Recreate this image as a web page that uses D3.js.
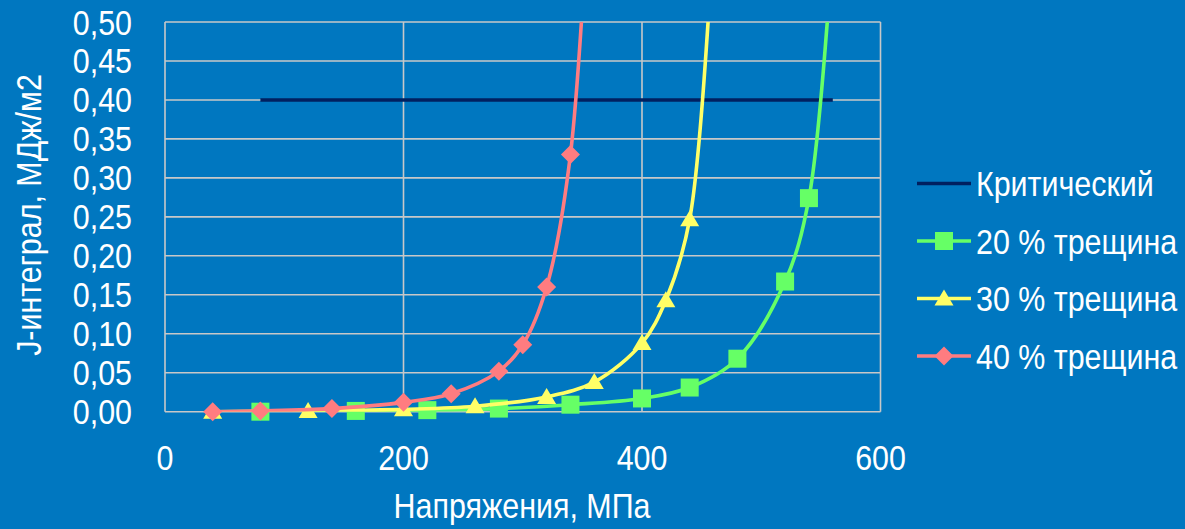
<!DOCTYPE html>
<html>
<head>
<meta charset="utf-8">
<script src="https://cdn.jsdelivr.net/npm/d3@7"></script>
<style>
  body { margin: 0; background: #0077c0; }
  svg { display: block; }
  text { font-family: "Liberation Sans", Arial, sans-serif; fill: #ffffff; }
</style>
</head>
<body>
<svg id="chart" width="1185" height="529"></svg>
<script>
// Stress, MPa, and J-integral values, MJ/m2
const critX = [80, 560];
const critY = [0.40, 0.40];

const x20 = [80, 160, 220, 280, 340, 400, 440, 480, 520, 540, 560];
const y20 = [0.000, 0.001, 0.002, 0.004, 0.009, 0.017, 0.031, 0.068, 0.167, 0.274, 0.60];

const x30 = [40, 120, 200, 260, 320, 360, 400, 420, 440, 460];
const y30 = [0.000, 0.001, 0.003, 0.007, 0.019, 0.038, 0.088, 0.143, 0.247, 0.62];

const x40 = [40, 80, 140, 200, 240, 280, 300, 320, 340, 360];
const y40 = [0.000, 0.001, 0.004, 0.012, 0.023, 0.052, 0.086, 0.160, 0.330, 0.80];

const seriesNames = ["Критический", "20 % трещина", "30 % трещина", "40 % трещина"];
const xTicks = [0, 200, 400, 600];
const yTicks = [0, 0.05, 0.10, 0.15, 0.20, 0.25, 0.30, 0.35, 0.40, 0.45, 0.50];
const xTitle = "Напряжения, МПа";
const yTitle = "J-интеграл, МДж/м2";

const series = [
  { name: seriesNames[0], xs: critX, ys: critY, color: "#002060", marker: null, smooth: false },
  { name: seriesNames[1], xs: x20, ys: y20, color: "#66ff66", marker: "square", smooth: true },
  { name: seriesNames[2], xs: x30, ys: y30, color: "#ffff66", marker: "triangle", smooth: true },
  { name: seriesNames[3], xs: x40, ys: y40, color: "#ff7c80", marker: "diamond", smooth: true }
];

const svg = d3.select("#chart");
const plot = { left: 165, top: 22, right: 880.5, bottom: 411.7 };

const x = d3.scaleLinear().domain([0, 600]).range([plot.left, plot.right]);
const y = d3.scaleLinear().domain([0, 0.5]).range([plot.bottom, plot.top]);

const comma = d3.formatLocale({ decimal: ",", thousands: " ", grouping: [3], currency: ["", ""] });
const fmtY = comma.format(".2f");
const fmtX = d3.format("d");

// condensed text: regular sans squeezed horizontally
const NARROW = 0.845;
function label(parent, str, px, py, anchor, size, rotate) {
  return parent.append("text")
    .attr("transform", `translate(${px},${py})${rotate ? " rotate(-90)" : ""} scale(${NARROW},1)`)
    .attr("text-anchor", anchor)
    .attr("font-size", size)
    .text(str);
}

svg.append("defs").append("clipPath").attr("id", "plotClip")
  .append("rect")
  .attr("x", plot.left).attr("y", plot.top)
  .attr("width", plot.right - plot.left).attr("height", plot.bottom - plot.top);

// grid
const grid = svg.append("g").attr("stroke", "#c8c8c8").attr("stroke-width", 1.6);
grid.selectAll("line.h").data(yTicks).join("line").attr("class", "h")
  .attr("x1", plot.left).attr("x2", plot.right)
  .attr("y1", d => y(d)).attr("y2", d => y(d));
grid.selectAll("line.v").data(xTicks).join("line").attr("class", "v")
  .attr("y1", plot.top).attr("y2", plot.bottom)
  .attr("x1", d => x(d)).attr("x2", d => x(d));

// tick labels
const yLab = svg.append("g");
yTicks.forEach(t => label(yLab, fmtY(t), 132, y(t) + 12.5, "end", 36));
const xLab = svg.append("g");
xTicks.forEach(t => label(xLab, fmtX(t), x(t), 470, "middle", 36));

// axis titles
label(svg, xTitle, 522, 518, "middle", 36);
label(svg, yTitle, 41, 215, "middle", 36, true);

// series
const lineSmooth = d3.line().curve(d3.curveCatmullRom.alpha(0.5)).x(d => x(d[0])).y(d => y(d[1]));
const lineStraight = d3.line().x(d => x(d[0])).y(d => y(d[1]));

function drawMarker(g, kind, cx, cy, color) {
  if (kind === "diamond") {
    const r = 9.5;
    g.append("path").attr("d", `M${cx},${cy - r}L${cx + r},${cy}L${cx},${cy + r}L${cx - r},${cy}Z`).attr("fill", color);
  } else if (kind === "square") {
    g.append("rect").attr("x", cx - 9).attr("y", cy - 9).attr("width", 18).attr("height", 18).attr("fill", color);
  } else if (kind === "triangle") {
    g.append("path").attr("d", `M${cx},${cy - 9}L${cx + 9.5},${cy + 7}L${cx - 9.5},${cy + 7}Z`).attr("fill", color);
  }
}

series.forEach(s => {
  const pts = s.xs.map((v, i) => [v, s.ys[i]]);
  svg.append("path")
    .attr("clip-path", "url(#plotClip)")
    .attr("d", (s.smooth ? lineSmooth : lineStraight)(pts))
    .attr("fill", "none").attr("stroke", s.color)
    .attr("stroke-width", s.marker ? 3.6 : 3.6);
  if (s.marker) {
    const g = svg.append("g");
    pts.filter(p => p[1] <= 0.5).forEach(p => drawMarker(g, s.marker, x(p[0]), y(p[1]), s.color));
  }
});

// legend
const legend = svg.append("g");
const rowY = [183.5, 241, 298.5, 356];
series.forEach((s, i) => {
  const g = legend.append("g");
  g.append("line").attr("x1", 917).attr("x2", 971).attr("y1", rowY[i]).attr("y2", rowY[i])
    .attr("stroke", s.color).attr("stroke-width", 3.6);
  if (s.marker) drawMarker(g, s.marker, 944, rowY[i], s.color);
  label(g, s.name, 976, rowY[i] + 12.5, "start", 36);
});
</script>
</body>
</html>
